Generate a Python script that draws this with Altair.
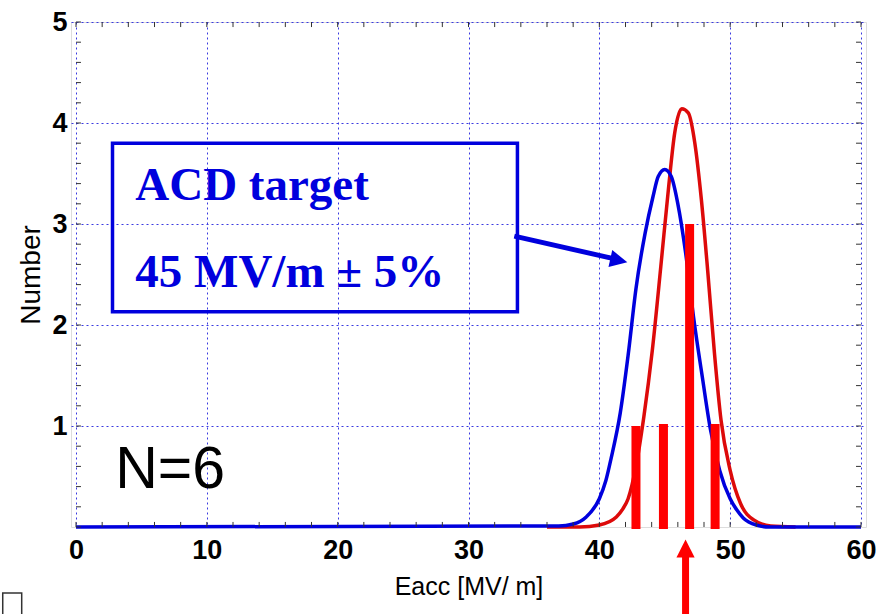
import altair as alt
import pandas as pd

# ---- data ----
blue_x = [0, 36.9, 38.0, 39.0, 40.0, 40.5, 40.9, 41.6, 42.2, 42.8, 43.5, 44.1, 44.5, 45.0, 45.5,
          46.0, 46.6, 47.2, 47.9, 48.5, 49.2, 50.0, 50.5, 51.0, 52.0, 53.0, 60]
blue_y = [0, 0.01, 0.03, 0.10, 0.28, 0.46, 0.68, 1.13, 1.70, 2.36, 2.91, 3.27, 3.47, 3.54, 3.47,
          3.20, 2.71, 2.08, 1.46, 0.96, 0.56, 0.28, 0.17, 0.09, 0.02, 0, 0]

red_x = [36.0, 38.5, 40.0, 41.3, 41.8, 42.2, 42.8, 43.4, 44.05, 44.7, 45.3, 45.76, 46.3, 46.8,
         47.3, 47.8, 48.3, 48.8, 49.3, 50.0, 50.8, 51.8, 53.1, 55.0]
red_y = [0, 0, 0.02, 0.10, 0.18, 0.28, 0.60, 1.09, 1.75, 2.58, 3.37, 3.90, 4.14, 4.10,
         3.80, 3.24, 2.51, 1.72, 1.06, 0.56, 0.23, 0.07, 0.01, 0]

bar_x = [42.8, 44.9, 46.9, 48.85]
bar_y = [1.0, 1.02, 3.0, 1.02]

x_ticks = [0, 10, 20, 30, 40, 50, 60]
y_ticks = [1, 2, 3, 4, 5]
x_minor = list(range(0, 61, 2))
y_minor = [round(i * 0.2, 1) for i in range(26)]

# annotation positions (data units)
box_x, box_x2, box_y, box_y2 = 2.79, 33.74, 3.80, 2.13
text_lines = ["ACD target", "45 MV/m \u00b1 5%"]
text_x = [4.53, 4.53]
text_y = [3.24, 2.38]
n_label = "N=6"
n_x, n_y = [3.0], [0.386]
blue_arrow_x, blue_arrow_y = [33.5, 41.0], [2.88, 2.66]
blue_head_x, blue_head_y = [41.49], [2.64]
red_arrow_x, red_arrow_y = [46.59, 46.59], [-0.87, -0.29]
red_head_x, red_head_y = [46.59], [-0.213]
corner_x, corner_x2, corner_y, corner_y2 = -5.6, -4.15, -0.653, -1.0

BLUE = "#0000dd"
RED_LINE = "#dd0a0a"
RED_BAR = "#ff0000"
SANS = "Liberation Sans, Arial, sans-serif"

xs = alt.Scale(domain=[0, 60], nice=False, zero=False)
ys = alt.Scale(domain=[0, 5], nice=False, zero=False)

xaxis = alt.Axis(values=x_ticks, grid=True, gridDash=[2, 3], gridColor="#3a3ae0", gridWidth=1,
                 ticks=False, domain=False, labelFontSize=27, labelFont=SANS, labelFontWeight="bold",
                 labelColor="black", labelPadding=10, labelFlush=False, labelOverlap=False, format="d",
                 title="Eacc [MV/ m]", titleFont=SANS, titleFontSize=25, titleFontWeight="normal",
                 titleColor="black", titlePadding=11)
yaxis = alt.Axis(values=y_ticks, grid=True, gridDash=[2, 3], gridColor="#3a3ae0", gridWidth=1,
                 ticks=False, domain=False, labelFontSize=27, labelFont=SANS, labelFontWeight="bold",
                 labelColor="black", labelPadding=4, labelFlush=False, labelOverlap=False, format="d",
                 title="Number", titleFont=SANS, titleFontSize=28, titleFontWeight="normal",
                 titleColor="black", titlePadding=6)


def X(field):
    return alt.X(field, scale=xs, axis=xaxis)


def Y(field):
    return alt.Y(field, scale=ys, axis=yaxis)


blue_df = pd.DataFrame({"x": blue_x, "y": blue_y})
red_df = pd.DataFrame({"x": red_x, "y": red_y})
bar_df = pd.DataFrame({"x": bar_x, "y": bar_y})

red_line = alt.Chart(red_df).mark_line(color=RED_LINE, strokeWidth=3.5, interpolate="monotone").encode(
    x=X("x:Q"), y=Y("y:Q"))
blue_line = alt.Chart(blue_df).mark_line(color=BLUE, strokeWidth=3.5, interpolate="monotone").encode(
    x=X("x:Q"), y=Y("y:Q"))
bars = alt.Chart(bar_df).mark_bar(color=RED_BAR, size=9).encode(
    x=X("x:Q"), y=Y("y:Q"), y2=alt.datum(-0.02))

tick_col = "#333333"
xt = pd.DataFrame({"t": x_minor, "lo": [0.0] * len(x_minor), "hi": [0.05] * len(x_minor),
                   "top": [5.0] * len(x_minor), "top2": [4.95] * len(x_minor)})
yt = pd.DataFrame({"t": y_minor, "lo": [0.0] * len(y_minor), "hi": [0.38] * len(y_minor),
                   "r": [60.0] * len(y_minor), "r2": [59.62] * len(y_minor)})
bottom_ticks = alt.Chart(xt).mark_rule(color=tick_col, strokeWidth=1).encode(
    x=X("t:Q"), y=Y("lo:Q"), y2="hi:Q")
top_ticks = alt.Chart(xt).mark_rule(color=tick_col, strokeWidth=1).encode(
    x=X("t:Q"), y=Y("top:Q"), y2="top2:Q")
left_ticks = alt.Chart(yt).mark_rule(color=tick_col, strokeWidth=1).encode(
    y=Y("t:Q"), x=X("lo:Q"), x2="hi:Q")
right_ticks = alt.Chart(yt).mark_rule(color=tick_col, strokeWidth=1).encode(
    y=Y("t:Q"), x=X("r:Q"), x2="r2:Q")

box = alt.Chart(pd.DataFrame({"x": [box_x], "x2": [box_x2], "y": [box_y], "y2": [box_y2]})).mark_rect(
    fill=None, stroke=BLUE, strokeWidth=3.5).encode(
    x=X("x:Q"), x2="x2:Q", y=Y("y:Q"), y2="y2:Q")

texts = alt.Chart(pd.DataFrame({"x": text_x, "y": text_y, "t": text_lines})).mark_text(
    align="left", baseline="alphabetic", font="Liberation Serif, Times New Roman, serif",
    fontWeight="bold", fontSize=47, color=BLUE).encode(
    x=X("x:Q"), y=Y("y:Q"), text="t:N")

n_text = alt.Chart(pd.DataFrame({"x": n_x, "y": n_y, "t": [n_label]})).mark_text(
    align="left", baseline="alphabetic", font=SANS, fontSize=59, color="black").encode(
    x=X("x:Q"), y=Y("y:Q"), text="t:N")

barrow = alt.Chart(pd.DataFrame({"x": blue_arrow_x, "y": blue_arrow_y})).mark_line(
    color=BLUE, strokeWidth=5).encode(x=X("x:Q"), y=Y("y:Q"))
bhead = alt.Chart(pd.DataFrame({"x": blue_head_x, "y": blue_head_y})).mark_point(
    shape="M1,0L-1,-1L-1,1Z", filled=True, color=BLUE, opacity=1, size=300, angle=12.5).encode(
    x=X("x:Q"), y=Y("y:Q"))

rarrow = alt.Chart(pd.DataFrame({"x": red_arrow_x, "y": red_arrow_y})).mark_line(
    color=RED_BAR, strokeWidth=7, clip=False).encode(x=X("x:Q"), y=Y("y:Q"))
rhead = alt.Chart(pd.DataFrame({"x": red_head_x, "y": red_head_y})).mark_point(
    shape="M0,-1L1,1L-1,1Z", filled=True, color=RED_BAR, opacity=1, size=330, clip=False).encode(
    x=X("x:Q"), y=Y("y:Q"))

corner = alt.Chart(pd.DataFrame({"x": [corner_x], "x2": [corner_x2], "y": [corner_y], "y2": [corner_y2]})).mark_rect(
    fill=None, stroke="#333333", strokeWidth=1.5, clip=False).encode(
    x=X("x:Q"), x2="x2:Q", y=Y("y:Q"), y2="y2:Q")

chart = alt.layer(
    red_line, blue_line, bars, bottom_ticks, top_ticks, left_ticks, right_ticks,
    box, texts, n_text, barrow, bhead, rarrow, rhead, corner
).properties(
    width=795, height=505,
    autosize=alt.AutoSizeParams(type="none"),
    padding={"left": 71, "top": 22, "right": 12, "bottom": 87},
).configure_view(stroke="#222222", strokeWidth=1.5).configure(background="white")

chart.save("out.html", embed_options={"renderer": "svg", "actions": False})
